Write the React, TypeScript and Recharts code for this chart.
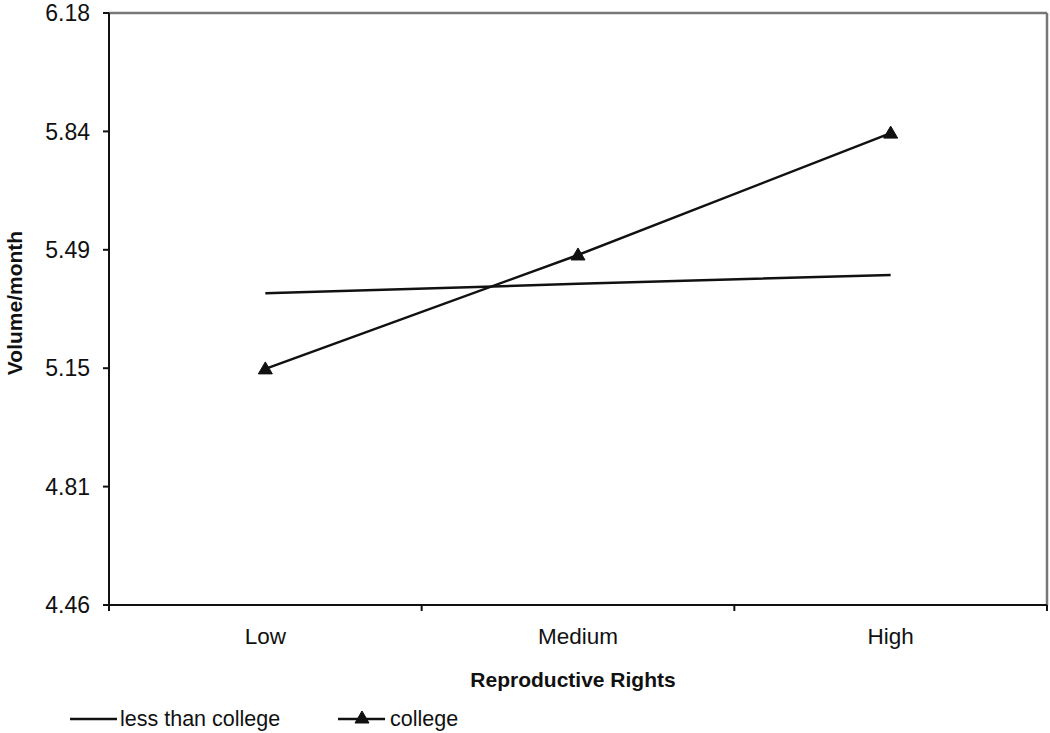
import React from 'react'
import {
  LineChart,
  Line,
  XAxis,
  YAxis,
  Label,
  Legend,
  ReferenceLine,
} from 'recharts'

const CATEGORIES = ['Low', 'Medium', 'High']
const LESS_THAN_COLLEGE = [5.366, 5.393, 5.419]
const COLLEGE = [5.146, 5.477, 5.831]
const Y_TICKS = [4.46, 4.804, 5.148, 5.492, 5.836, 6.18]
const Y_TICK_LABELS = ['4.46', '4.81', '5.15', '5.49', '5.84', '6.18']
const X_TICKS = [0, 0.5, 1, 1.5, 2, 2.5, 3]
const SERIES = [
  { key: 'less', name: 'less than college', marker: false },
  { key: 'college', name: 'college', marker: true },
]

const FONT = '"Liberation Sans", Arial, sans-serif'
const INK = '#111111'

const data = CATEGORIES.map((name, i) => ({
  x: i + 0.5,
  name,
  less: LESS_THAN_COLLEGE[i],
  college: COLLEGE[i],
}))

function XTick({ x, y, payload }: any) {
  const v = payload.value
  if (Number.isInteger(v)) {
    return <line x1={x} x2={x} y1={y} y2={y + 6} stroke={INK} strokeWidth={2} />
  }
  const label = CATEGORIES[Math.floor(v)]
  return (
    <text x={x} y={y + 39} textAnchor="middle" fontSize={22.5} fontFamily={FONT} fill={INK}>
      {label}
    </text>
  )
}

function Triangle({ cx, cy }: any) {
  if (cx == null || cy == null) return null
  return (
    <polygon
      points={`${cx},${cy - 7} ${cx - 7},${cy + 5} ${cx + 7},${cy + 5}`}
      fill={INK}
      stroke={INK}
    />
  )
}

function YLabel({ viewBox }: any) {
  const cx = viewBox.x + 14
  const cy = viewBox.y + viewBox.height / 2 - 6
  return (
    <text
      x={cx}
      y={cy}
      transform={`rotate(-90, ${cx}, ${cy})`}
      textAnchor="middle"
      dominantBaseline="central"
      fontSize={21}
      fontWeight={700}
      fontFamily={FONT}
      fill={INK}
    >
      Volume/month
    </text>
  )
}

const LEGEND_X = [70, 338]

function LegendContent() {
  return (
    <svg width={1050} height={38} style={{ display: 'block', overflow: 'visible' }}>
      {SERIES.map((s, i) => {
        const x0 = LEGEND_X[i]
        return (
          <g key={s.key}>
            <line x1={x0} x2={x0 + 47} y1={24} y2={24} stroke={INK} strokeWidth={2.5} />
            {s.marker && <Triangle cx={x0 + 24} cy={23} />}
            <text
              x={x0 + (i === 0 ? 50 : 52)}
              y={24}
              dominantBaseline="central"
              fontSize={21.5}
              fontFamily={FONT}
              fill={INK}
            >
              {s.name}
            </text>
          </g>
        )
      })}
    </svg>
  )
}

export default function App() {
  return (
    <div style={{ position: 'absolute', left: 0, top: 0, background: '#fff' }}>
      <LineChart
        width={1050}
        height={733}
        data={data}
        margin={{ top: 13, right: 3, left: 0, bottom: 5 }}
      >
        <XAxis
          dataKey="x"
          type="number"
          domain={[0, 3]}
          ticks={X_TICKS}
          interval={0}
          allowDecimals
          tick={<XTick />}
          tickLine={false}
          tickSize={0}
          tickMargin={0}
          axisLine={{ stroke: INK, strokeWidth: 2 }}
          height={90}
        >
          <Label
            value="Reproductive Rights"
            position="insideBottom"
            offset={8}
            dx={-5}
            style={{ fontWeight: 700, fontSize: 21, fill: INK, fontFamily: FONT }}
          />
        </XAxis>
        <YAxis
          type="number"
          domain={[4.46, 6.18]}
          ticks={Y_TICKS}
          interval={0}
          width={109}
          tickFormatter={(v: number, i: number) => Y_TICK_LABELS[i] ?? v.toFixed(2)}
          tick={{ fontSize: 23, fill: INK, fontFamily: FONT }}
          tickLine={{ stroke: INK, strokeWidth: 2 }}
          tickSize={6}
          tickMargin={13}
          axisLine={{ stroke: INK, strokeWidth: 2 }}
        >
          <Label content={<YLabel />} />
        </YAxis>
        <ReferenceLine y={6.18} stroke="#777777" strokeWidth={2.5} />
        <ReferenceLine x={3} stroke="#777777" strokeWidth={2.5} />
        <Legend verticalAlign="bottom" height={33} wrapperStyle={{ left: 0, width: 1050 }} content={<LegendContent />} />
        <Line
          dataKey="less"
          name="less than college"
          stroke={INK}
          strokeWidth={2.5}
          dot={false}
          activeDot={false}
          isAnimationActive={false}
        />
        <Line
          dataKey="college"
          name="college"
          stroke={INK}
          strokeWidth={2.5}
          dot={<Triangle />}
          activeDot={false}
          isAnimationActive={false}
        />
      </LineChart>
    </div>
  )
}
